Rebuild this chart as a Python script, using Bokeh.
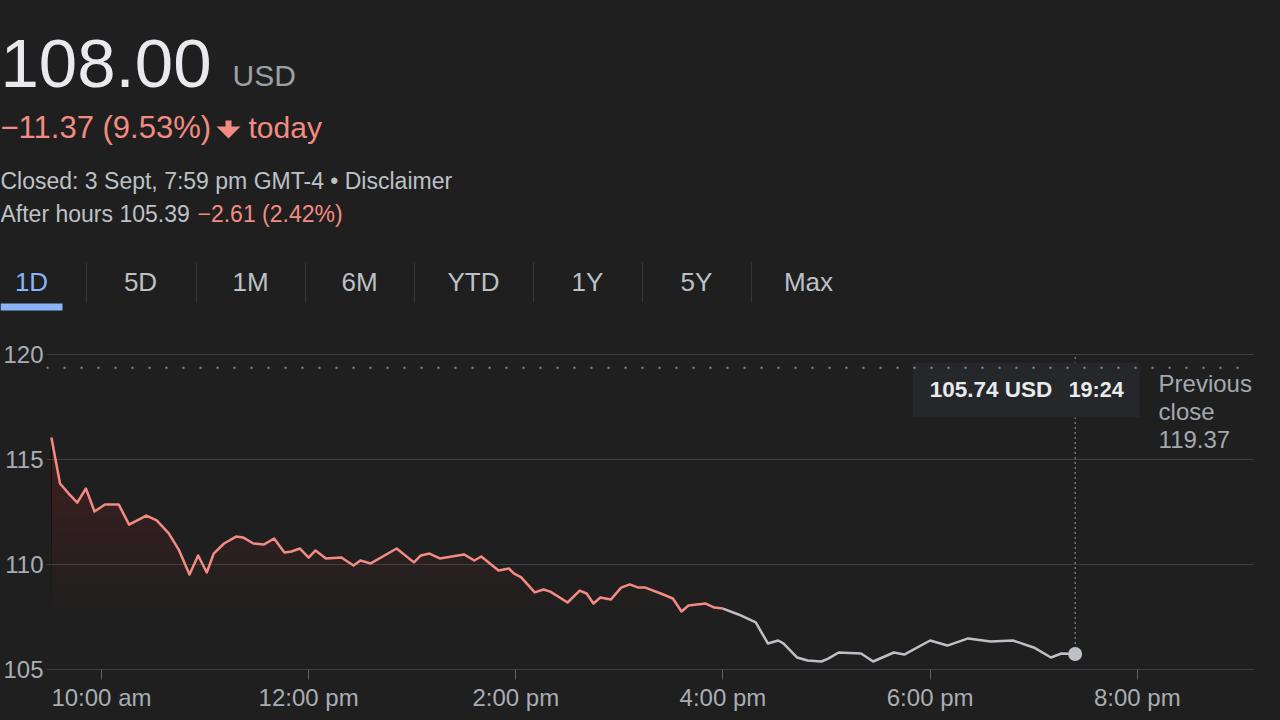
from bokeh.plotting import figure
from bokeh.layouts import column
from bokeh.models import Range1d, FixedTicker, Label, Span
from bokeh.embed import file_html
from bokeh.resources import INLINE
from bokeh.core.properties import value
import numpy as np

# ---------------- data ----------------
price_now = "108.00"
currency = "USD"
change_text = "\u221211.37 (9.53%)"
status_text = "Closed: 3 Sept, 7:59 pm GMT-4 \u2022 Disclaimer"
after_hours_text = "After hours 105.39"
after_change_text = "\u22122.61 (2.42%)"
tabs = ["1D", "5D", "1M", "6M", "YTD", "1Y", "5Y", "Max"]

times_session = ["9:31", "9:36", "9:41", "9:46", "9:51", "9:56", "10:02", "10:10", "10:16", "10:26",
                 "10:32", "10:39", "10:45", "10:51", "10:56", "11:01", "11:05", "11:11", "11:18", "11:22",
                 "11:28", "11:34", "11:40", "11:46", "11:50", "11:55", "12:00", "12:04", "12:10", "12:19",
                 "12:26", "12:30", "12:36", "12:51", "13:01", "13:05", "13:10", "13:16", "13:30", "13:36",
                 "13:40", "13:50", "13:56", "13:59", "14:03", "14:11", "14:16", "14:20", "14:30", "14:37",
                 "14:41", "14:45", "14:49", "14:55", "15:01", "15:06", "15:11", "15:15", "15:24", "15:31",
                 "15:36", "15:40", "15:50", "15:55", "16:00"]
price_session = [116.05, 113.86, 113.38, 112.95, 113.62, 112.52, 112.86, 112.86, 111.90, 112.33,
                 112.10, 111.48, 110.67, 109.52, 110.43, 109.62, 110.52, 111.00, 111.33, 111.29,
                 111.00, 110.95, 111.24, 110.57, 110.62, 110.76, 110.33, 110.67, 110.29, 110.33,
                 109.95, 110.19, 110.05, 110.76, 110.10, 110.43, 110.52, 110.29, 110.48, 110.19,
                 110.38, 109.71, 109.81, 109.57, 109.40, 108.67, 108.81, 108.71, 108.19, 108.76,
                 108.62, 108.14, 108.43, 108.33, 108.90, 109.05, 108.90, 108.90, 108.62, 108.38,
                 107.76, 108.05, 108.14, 107.95, 107.90]

times_after = ["16:09", "16:19", "16:26", "16:32", "16:35", "16:43", "16:49", "16:57", "17:01", "17:07",
               "17:20", "17:27", "17:39", "17:45", "18:00", "18:10", "18:22", "18:35", "18:48", "19:00",
               "19:10", "19:16", "19:24"]
price_after = [107.62, 107.24, 106.24, 106.38, 106.24, 105.57, 105.43, 105.38, 105.52, 105.81,
               105.76, 105.38, 105.81, 105.71, 106.38, 106.14, 106.48, 106.33, 106.38, 106.05,
               105.57, 105.76, 105.74]

previous_close = 119.37
y_ticks = [105, 110, 115, 120]
x_ticks = [10, 12, 14, 16, 18, 20]
x_tick_labels = ["10:00 am", "12:00 pm", "2:00 pm", "4:00 pm", "6:00 pm", "8:00 pm"]

# ---------------- styling ----------------
FONT = "Liberation Sans"
BG = "#1f1f1f"
RED = "#f28b82"
GREY_LINE = "#bdc1c6"
TXT = "#e8eaed"
SUB = "#bdc1c6"
MUTED = "#9aa0a6"
GRID = "#3c4043"


def hours(t):
    hh, mm = t.split(":")
    return int(hh) + int(mm) / 60.0


x_sess = np.array([hours(t) for t in times_session])
y_sess = np.array(price_session)
x_aft = np.array([x_sess[-1]] + [hours(t) for t in times_after])
y_aft = np.array([y_sess[-1]] + price_after)

# ---------------- header ----------------
HEAD_H = 330
h = figure(width=1280, height=HEAD_H, x_range=Range1d(0, 1280), y_range=Range1d(HEAD_H, 0),
           output_backend="svg", toolbar_location=None, min_border=0, title=None,
           x_axis_location=None, y_axis_location=None, frame_align=False,
           background_fill_color=BG, border_fill_color=BG, outline_line_color=None)
h.xgrid.visible = False
h.ygrid.visible = False


def T(fig, x, y, s, size, color, align="left", style="normal"):
    fig.text(x=[x], y=[y], text=[s], text_font=value(FONT), text_font_size=f"{size}px",
             text_color=color, text_align=align, text_baseline="middle", text_font_style=style)


T(h, 0, 63, price_now, 69, TXT)
T(h, 232, 75, currency, 30, MUTED)
T(h, 0, 127, change_text, 31, RED)
# down-arrow icon
h.quad(left=[225], right=[231], top=[120], bottom=[129], fill_color=RED, line_color=None)
h.patch(x=[216, 240, 228], y=[126, 126, 138], fill_color=RED, line_color=None)
T(h, 248, 127, "today", 30, RED)
T(h, 0, 180, status_text, 23, SUB)
T(h, 0, 213, after_hours_text, 23, SUB)
T(h, 197, 213, after_change_text, 23, RED)

tab_centers = [31, 140, 250, 359, 473, 587, 696, 808]
for i, (lab, cx) in enumerate(zip(tabs, tab_centers)):
    T(h, cx, 281, lab, 26, "#8ab4f8" if i == 0 else SUB, align="center")
sep_x = [86, 196, 305, 414, 533, 642, 751]
h.segment(x0=sep_x, y0=[262] * len(sep_x), x1=sep_x, y1=[302] * len(sep_x),
          line_color="#34363a", line_width=1)
h.quad(left=[0], right=[62], top=[303], bottom=[310], fill_color="#8ab4f8", line_color=None)

# ---------------- chart ----------------
PXH = 103.67          # pixels per hour
PXP = 21.0            # pixels per price unit
LEFT, RIGHT, TOP_PAD = 45, 27, 14
x_start = 10 + (45 - 100) / PXH
x_end = 10 + (1253 - 100) / PXH
y_top = 120 + 10 / PXP

p = figure(width=1280, height=720 - HEAD_H, x_range=Range1d(x_start, x_end), y_range=Range1d(105, y_top),
           output_backend="svg", toolbar_location=None, title=None, frame_align=False,
           min_border_left=LEFT, min_border_right=RIGHT, min_border_top=TOP_PAD, min_border_bottom=51,
           background_fill_color=BG, border_fill_color=BG, outline_line_color=None)

p.xgrid.visible = False
p.ygrid.ticker = FixedTicker(ticks=y_ticks)
p.ygrid.grid_line_color = GRID
p.ygrid.grid_line_width = 1

p.yaxis.ticker = FixedTicker(ticks=y_ticks)
p.yaxis.axis_line_color = None
p.yaxis.major_tick_line_color = None
p.yaxis.minor_tick_line_color = None
p.yaxis.major_tick_in = 0
p.yaxis.major_tick_out = 0
p.yaxis.minor_tick_in = 0
p.yaxis.minor_tick_out = 0
p.yaxis.major_label_standoff = 3
p.yaxis.major_label_text_font = FONT
p.yaxis.major_label_text_font_size = "24px"
p.yaxis.major_label_text_color = "#a9adb3"

p.xaxis.ticker = FixedTicker(ticks=x_ticks)
p.xaxis.major_label_overrides = {t: l for t, l in zip(x_ticks, x_tick_labels)}
p.xaxis.axis_line_color = GRID
p.xaxis.major_tick_line_color = "#5f6368"
p.xaxis.major_tick_in = 0
p.xaxis.major_tick_out = 10
p.xaxis.minor_tick_line_color = None
p.xaxis.minor_tick_in = 0
p.xaxis.minor_tick_out = 0
p.xaxis.major_label_standoff = 4
p.xaxis.major_label_text_font = FONT
p.xaxis.major_label_text_font_size = "24px"
p.xaxis.major_label_text_color = "#a9adb3"

# gradient-like fill under the session line
for L in np.arange(107.75, 116.25, 0.25):
    p.varea(x=x_sess, y1=np.full_like(y_sess, L), y2=np.maximum(y_sess, L),
            fill_color=RED, fill_alpha=0.0075)

# previous close dotted line
p.add_layout(Span(location=previous_close, dimension="width", line_color=MUTED,
                  line_width=2, line_dash="2 15", line_alpha=0.85))

# lines
p.line(x_sess, y_sess, line_color=RED, line_width=2.5, line_join="round")
p.line(x_aft, y_aft, line_color=GREY_LINE, line_width=2.5, line_join="round")

# hover marker
t_last = hours(times_after[-1])
v_last = price_after[-1]
p.segment(x0=[t_last], y0=[v_last], x1=[t_last], y1=[120], line_color=MUTED, line_width=1,
          line_dash="2 3")
p.scatter(x=[t_last], y=[v_last], size=14, fill_color=GREY_LINE, line_color=None)


def px_x(px):
    return 10 + (px - 100) / PXH


def px_y(py):
    return 120 - (py - 354) / PXP


# tooltip box
p.quad(left=[px_x(912)], right=[px_x(1139)], top=[px_y(362)], bottom=[px_y(417)],
       fill_color="#26272a", line_color=None)
p.add_layout(Label(x=px_x(929), y=px_y(389), text=f"{v_last:.2f} {currency}", text_font=FONT,
                   text_font_size="22.5px", text_font_style="bold", text_color=TXT,
                   text_baseline="middle"))
p.add_layout(Label(x=px_x(1068), y=px_y(389), text=times_after[-1], text_font=FONT,
                   text_font_size="21.5px", text_font_style="bold", text_color=TXT,
                   text_baseline="middle"))

# previous close label
for i, s in enumerate(["Previous", "close", f"{previous_close:.2f}"]):
    p.add_layout(Label(x=px_x(1158), y=px_y(383 + 28 * i), text=s, text_font=FONT,
                       text_font_size="24px", text_color="#a3a9b1", text_baseline="middle"))

layout = column(h, p, spacing=0)
html = file_html(layout, INLINE)
css = "<style>html, body { margin: 0; padding: 0; background: #1f1f1f; }</style>"
html = html.replace("</head>", css + "\n</head>", 1)
open("out.html", "w").write(html)
